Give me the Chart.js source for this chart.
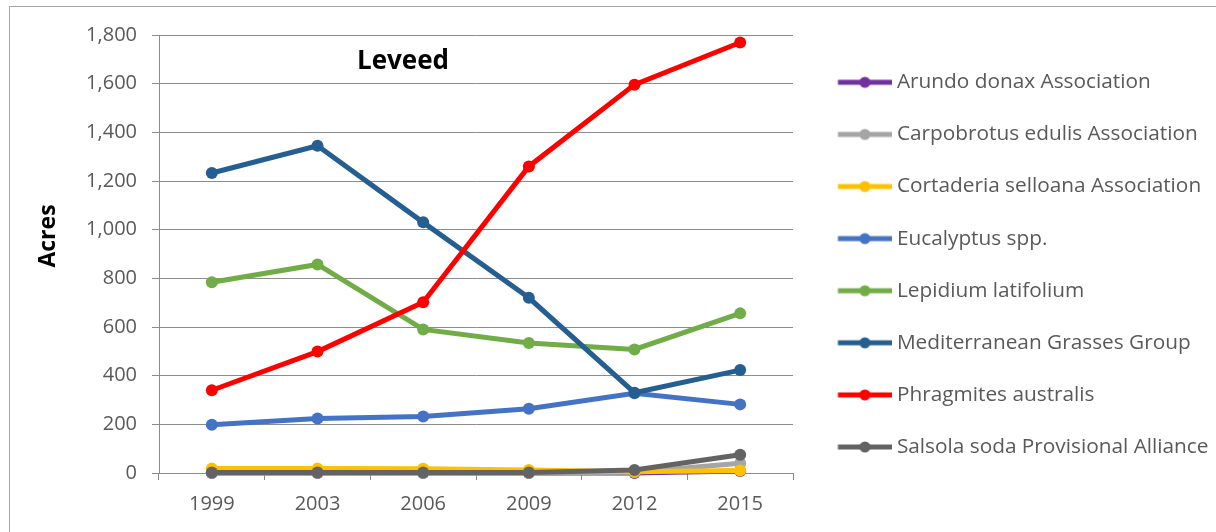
<!DOCTYPE html>
<html>
<head>
<meta charset="utf-8">
<script src="https://cdn.jsdelivr.net/npm/chart.js@4.4.1/dist/chart.umd.min.js"></script>
<style>
  html, body { margin: 0; padding: 0; background: #fff; }
  #wrap { position: relative; width: 1216px; height: 532px; overflow: hidden; }
  #frame { position: absolute; left: 9px; top: 6px; width: 1400px; height: 700px; border: 1px solid #a6a6a6; }
  #chart { position: absolute; left: 0; top: 0; }
</style>
</head>
<body>
<div id="wrap">
  <div id="frame"></div>
  <canvas id="chart" width="1216" height="532"></canvas>
</div>
<script>
// data
const years = ['1999', '2003', '2006', '2009', '2012', '2015'];
const seriesNames = [
    'Arundo donax Association',
    'Carpobrotus edulis Association',
    'Cortaderia selloana Association',
    'Eucalyptus spp.',
    'Lepidium latifolium',
    'Mediterranean Grasses Group',
    'Phragmites australis',
    'Salsola soda Provisional Alliance'
];
const arundo = [0, 0, 0, 0, 0, 8];
const carpobrotus = [0, 0, 0, 0, 3, 40];
const cortaderia = [18, 18, 17, 12, 5, 10];
const eucalyptus = [198, 224, 232, 264, 328, 282];
const lepidium = [784, 857, 590, 534, 508, 656];
const mediterranean = [1233, 1345, 1030, 720, 330, 423];
const phragmites = [340, 499, 702, 1260, 1596, 1769];
const salsola = [2, 2, 2, 2, 12, 75];
const seriesColors = ['#7030A0', '#A5A5A5', '#FFC000', '#4472C4', '#70AD47', '#255E91', '#FF0000', '#636363'];
const yTicks = [0, 200, 400, 600, 800, 1000, 1200, 1400, 1600, 1800];

const allSeries = [arundo, carpobrotus, cortaderia, eucalyptus, lepidium, mediterranean, phragmites, salsola];
const gridColor = '#8c8c8c';
const textColor = '#595959';

// legend sample: line with a dot in the middle
const makeLegendIcon = (color) => {
    const c = document.createElement('canvas');
    c.width = 74;
    c.height = 14;
    const g = c.getContext('2d');
    g.strokeStyle = color;
    g.lineWidth = 5;
    g.beginPath();
    g.moveTo(19.5, 7);
    g.lineTo(74, 7);
    g.stroke();
    g.fillStyle = color;
    g.beginPath();
    g.arc(46.5, 7, 5.5, 0, Math.PI * 2);
    g.fill();
    return c;
};
const legendIcons = seriesColors.map(makeLegendIcon);

const datasets = allSeries.map((values, i) => ({
    label: seriesNames[i],
    data: values,
    borderColor: seriesColors[i],
    backgroundColor: seriesColors[i],
    pointBackgroundColor: seriesColors[i],
    pointBorderColor: seriesColors[i],
    borderWidth: 5,
    pointRadius: 6,
    pointBorderWidth: 0,
    tension: 0,
    clip: false,
    order: allSeries.length - i   // later series on top, like excel
}));

const chartText = {
    id: 'chartText',
    afterDraw(chart) {
        const ctx = chart.ctx;
        const area = chart.chartArea;
        ctx.save();
        ctx.fillStyle = '#000';
        ctx.textAlign = 'center';
        ctx.font = 'bold 26px "Open Sans"';
        ctx.textBaseline = 'alphabetic';
        ctx.fillText('Leveed', area.left + 244, area.top + 34);
        ctx.translate(48, area.top + 201);
        ctx.rotate(-Math.PI / 2);
        ctx.font = 'bold 23px "Open Sans"';
        ctx.textBaseline = 'middle';
        ctx.fillText('Acres', 0, 0);
        ctx.restore();
    }
};

const canvas = document.querySelector('#chart');
new Chart(canvas.getContext('2d'), {
    type: 'line',
    data: { labels: years, datasets: datasets },
    plugins: [chartText],
    options: {
        responsive: false,
        animation: false,
        events: [],
        layout: { padding: { top: 35, left: 0, right: 0, bottom: 0 } },
        plugins: {
            tooltip: { enabled: false },
            title: { display: false },
            legend: {
                position: 'right',
                align: 'start',
                maxWidth: 423,
                title: { display: true, text: '', padding: { top: 2, bottom: 0 }, font: { size: 3 } },
                labels: {
                    usePointStyle: true,
                    pointStyleWidth: 62.2,
                    padding: 31.3,
                    color: textColor,
                    font: { family: '"Open Sans"', size: 20.8 },
                    generateLabels(chart) {
                        const items = Chart.defaults.plugins.legend.labels.generateLabels(chart);
                        items.sort((a, b) => a.datasetIndex - b.datasetIndex);
                        items.forEach(it => { it.pointStyle = legendIcons[it.datasetIndex]; });
                        return items;
                    }
                }
            }
        },
        scales: {
            x: {
                offset: true,
                afterFit(scale) { scale.height = 59; },
                grid: { offset: true, drawOnChartArea: false, tickLength: 7, color: gridColor },
                border: { color: gridColor },
                ticks: { color: textColor, padding: 12, font: { family: '"Open Sans"', size: 20 } }
            },
            y: {
                min: 0,
                max: 1800,
                afterFit(scale) { scale.width = 159; },
                afterBuildTicks(scale) { scale.ticks = yTicks.map(v => ({ value: v })); },
                grid: { color: gridColor, tickLength: 7 },
                border: { color: gridColor },
                ticks: {
                    color: textColor,
                    padding: 15,
                    font: { family: '"Open Sans"', size: 20 },
                    callback: (v) => v.toLocaleString('en-US')
                }
            }
        }
    }
});
</script>
</body>
</html>
